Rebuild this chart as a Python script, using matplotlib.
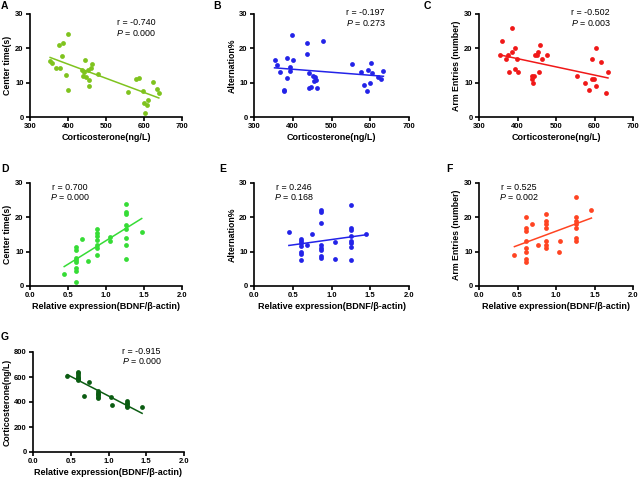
import matplotlib
matplotlib.use("Agg")
import matplotlib.pyplot as plt
import numpy as np

plt.rcParams['font.family'] = ['Liberation Sans', 'DejaVu Sans']
plt.rcParams['mathtext.fontset'] = 'custom'
plt.rcParams['mathtext.it'] = 'Liberation Sans:italic'
plt.rcParams['mathtext.rm'] = 'Liberation Sans'

# Panel A: corticosterone vs center time
cort_a = [353, 359, 369, 379, 377, 388, 385, 395, 401, 399, 437, 439, 445, 443, 447, 453,
          456, 455, 460, 464, 478, 557, 580, 588, 597, 599, 603, 608, 610, 623, 634, 639]
center_a = [16.3, 15.8, 14.3, 14.3, 21.1, 21.6, 17.7, 12.1, 24.1, 7.8, 13.8, 11.8, 16.6, 13.1, 11.6, 13.8,
            10.9, 9.1, 14.3, 15.4, 12.6, 7.3, 11.2, 11.5, 7.7, 4.2, 1.3, 3.4, 4.9, 10.2, 8.1, 6.9]

# Panel B: corticosterone vs alternation
cort_b = [353, 360, 368, 386, 377, 378, 385, 392, 394, 401, 398, 437, 437, 442, 442, 447, 451,
          454, 457, 460, 463, 477, 554, 575, 585, 593, 592, 599, 603, 605, 619, 628, 634]
alt_b = [16.7, 15.2, 13.0, 11.5, 8.0, 7.5, 17.1, 14.7, 13.3, 16.6, 23.9, 21.6, 18.3, 12.7, 8.4, 8.8, 11.9,
         10.6, 11.6, 10.9, 8.4, 22.1, 15.3, 13.1, 9.4, 13.6, 7.7, 10.0, 15.8, 12.9, 11.7, 11.1, 13.3]

# Panel C: corticosterone vs arm entries
cort_c = [354, 360, 369, 375, 378, 385, 387, 393, 394, 399, 400, 437, 437, 441, 443, 446, 451,
          453, 456, 458, 463, 477, 554, 576, 585, 593, 594, 598, 603, 605, 618, 629, 635]
arm_c = [18, 22, 17, 18, 13, 26, 19, 20, 14, 17, 13, 12, 11, 10, 12, 18, 18,
         19, 13, 21, 17, 18, 12, 10, 8, 17, 11, 11, 9, 20, 16, 7, 13]

# Panel D: BDNF vs center time
bdnf_d = [0.45, 0.61, 0.61, 0.61, 0.61, 0.61, 0.61, 0.61, 0.61, 0.69, 0.76, 0.88, 0.88, 0.88, 0.88,
          0.88, 0.88, 0.88, 1.05, 1.05, 1.26, 1.26, 1.26, 1.26, 1.26, 1.26, 1.26, 1.26, 1.47]
center_d = [3.4, 11.4, 10.6, 8.2, 7.7, 7.1, 5.3, 4.4, 1.3, 13.8, 7.3, 16.5, 15.3, 14.5, 13.4,
            11.8, 11.1, 8.9, 14.3, 13.2, 23.9, 21.6, 21.1, 17.7, 16.5, 14.1, 12.0, 7.8, 15.7]

# Panel E: BDNF vs alternation
bdnf_e = [0.45, 0.60, 0.60, 0.60, 0.60, 0.60, 0.60, 0.60, 0.69, 0.75, 0.87, 0.87, 0.87, 0.87, 0.87,
          0.87, 0.87, 0.87, 1.04, 1.05, 1.25, 1.25, 1.25, 1.25, 1.25, 1.25, 1.25, 1.25, 1.45]
alt_e = [15.7, 13.7, 13.2, 12.6, 11.6, 9.8, 9.3, 7.5, 11.9, 15.2, 22.0, 21.6, 18.3, 11.8, 11.1,
         10.5, 8.7, 8.3, 12.7, 8.0, 23.7, 16.8, 16.4, 14.5, 13.2, 12.6, 11.4, 7.5, 15.2]

# Panel F: BDNF vs arm entries
bdnf_f = [0.46, 0.61, 0.61, 0.61, 0.61, 0.61, 0.61, 0.61, 0.61, 0.69, 0.76, 0.87, 0.87, 0.87, 0.87,
          0.87, 0.87, 0.87, 1.05, 1.04, 1.26, 1.26, 1.26, 1.26, 1.26, 1.26, 1.26, 1.46]
arm_f = [9, 20, 17, 16, 13, 11, 10, 8, 7, 18, 12, 21, 19, 18, 17,
         13, 12, 11, 13, 10, 26, 20, 19, 18, 17, 14, 13, 22]

# Panel G: BDNF vs corticosterone
bdnf_g = [0.455, 0.60, 0.60, 0.60, 0.60, 0.60, 0.60, 0.60, 0.675, 0.74, 0.86, 0.86, 0.86, 0.86,
          0.86, 0.86, 1.03, 1.04, 1.245, 1.245, 1.245, 1.245, 1.245, 1.445]
cort_g = [609, 642, 631, 617, 604, 593, 582, 574, 451, 558, 486, 475, 464, 454,
          443, 432, 443, 378, 408, 395, 381, 370, 357, 362]

panels = [
    # letter, x, y, color, r text, p text, box(px), xlim, ylim, xlabel, ylabel, text position
    ('A', cort_a, center_a, '#7fc31e', '-0.740', '0.000', (30, 182, 14, 117), (300, 700), (0, 30),
     'Corticosterone(ng/L)', 'Center time(s)', 0.70),
    ('B', cort_b, alt_b, '#2323e8', '-0.197', '0.273', (254, 409, 14, 117), (300, 700), (0, 30),
     'Corticosterone(ng/L)', 'Alternation%', 0.72),
    ('C', cort_c, arm_c, '#f01818', '-0.502', '0.003', (479, 633, 14, 117), (300, 700), (0, 30),
     'Corticosterone(ng/L)', 'Arm Entries (number)', 0.725),
    ('D', bdnf_d, center_d, '#36dc36', '0.700', '0.000', (30, 182, 183, 286), (0, 2), (0, 30),
     'Relative expression(BDNF/β-actin)', 'Center time(s)', 0.26),
    ('E', bdnf_e, alt_e, '#2323e8', '0.246', '0.168', (254, 409, 183, 286), (0, 2), (0, 30),
     'Relative expression(BDNF/β-actin)', 'Alternation%', 0.26),
    ('F', bdnf_f, arm_f, '#ff4422', '0.525', '0.002', (479, 633, 183, 286), (0, 2), (0, 30),
     'Relative expression(BDNF/β-actin)', 'Arm Entries (number)', 0.26),
    ('G', bdnf_g, cort_g, '#0b5c12', '-0.915', '0.000', (33, 184, 352, 452), (0, 2), (0, 800),
     'Relative expression(BDNF/β-actin)', 'Corticosterone(ng/L)', 0.72),
]

letter_pos = {'A': (4, 6), 'B': (217, 6), 'C': (427, 6), 'D': (5, 169),
              'E': (223, 169), 'F': (449, 169), 'G': (5, 337)}

W, H = 640, 478
fig = plt.figure(figsize=(6.4, 4.78), dpi=100)

for letter, xs, ys, color, rtxt, ptxt, box, xlim, ylim, xlab, ylab, tx in panels:
    l, r, t, b = box
    ax = fig.add_axes([l / W, 1 - b / H, (r - l) / W, (b - t) / H])
    xs = np.array(xs)
    ys = np.array(ys)
    ax.scatter(xs, ys, s=12, color=color, linewidths=0, clip_on=False, zorder=3)
    k, c = np.polyfit(xs, ys, 1)
    xx = np.array([xs.min(), xs.max()])
    ax.plot(xx, k * xx + c, color=color, lw=1.1, zorder=2)

    ax.set_xlim(*xlim)
    ax.set_ylim(*ylim)
    if xlim[0] == 300:
        ax.set_xticks(np.arange(300, 701, 100))
    else:
        ax.set_xticks(np.arange(0, 2.01, 0.5))
        ax.set_xticklabels(['0.0', '0.5', '1.0', '1.5', '2.0'])
    if ylim[1] == 30:
        ax.set_yticks([0, 10, 20, 30])
    else:
        ax.set_yticks([0, 200, 400, 600, 800])
    for s in ['top', 'right']:
        ax.spines[s].set_visible(False)
    for s in ['left', 'bottom']:
        ax.spines[s].set_linewidth(1.2)
    ax.tick_params(length=3, width=1.2, labelsize=5.5, pad=1.5)
    for lab in ax.get_xticklabels() + ax.get_yticklabels():
        lab.set_fontweight('bold')
    ax.set_xlabel(xlab, fontsize=6.5, fontweight='bold', labelpad=2)
    ax.set_ylabel(ylab, fontsize=6.3, fontweight='bold', labelpad=2)

    ry = 0.915 if letter in 'A' else (0.958 if letter in 'DEF' else 1.01)
    ax.text(tx, ry, 'r = ' + rtxt, transform=ax.transAxes, ha='center', va='center', fontsize=6.4)
    ax.text(tx, ry - 0.095, r'$\it{P}$ = ' + ptxt, transform=ax.transAxes,
            ha='center', va='center', fontsize=6.4)

    lx, ly = letter_pos[letter]
    fig.text(lx / W, 1 - ly / H, letter, ha='center', va='center', fontsize=7.5, fontweight='bold')

fig.savefig('out.png', dpi=100)
